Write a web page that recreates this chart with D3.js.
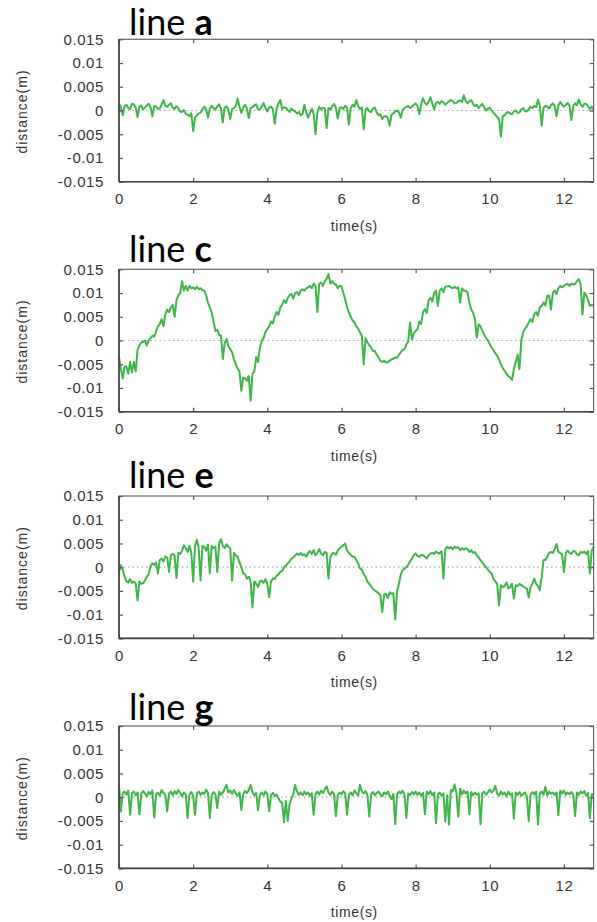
<!DOCTYPE html>
<html><head><meta charset="utf-8">
<script src="https://cdn.jsdelivr.net/npm/d3@7"></script>
<style>body{margin:0;background:#fff}</style></head>
<body><svg id="chart" width="597" height="922"></svg>
<script>
// ---- data: distance in mm, one sample every 0.05 s from 0 to 12.8 s (one row = 1 s) ----
const panelNames = ["a", "c", "e", "g"];
const timeStep = 0.05;
const lineA_mm = [
  1.5,0.8,-1.0,0.9,1.2,0.5,0.3,1.4,1.3,0.6,-1.4,0.8,1.0,0.2,0.6,1.1,1.4,0.7,-1.2,0.9,
  0.9,0.3,0.4,1.3,2.2,1.0,0.8,1.2,1.5,0.6,0.3,0.9,0.5,-0.2,-0.3,0.1,-0.7,-0.9,-1.2,-0.6,
  -4.3,-1.5,-1.0,-0.6,-0.5,0.2,0.8,0.3,-1.5,0.4,1.0,0.5,0.2,0.9,1.3,0.4,-2.5,0.6,0.9,0.2,
  -1.8,0.3,0.5,1.0,2.5,0.8,-0.5,0.6,1.2,0.4,-1.6,0.5,0.7,1.1,1.3,0.2,0.2,0.9,1.6,0.5,
  -0.2,0.6,0.8,0.3,-2.8,0.5,1.5,2.2,0.3,0.7,0.6,0.1,-0.3,0.4,0.0,-0.2,-0.6,-0.3,-1.0,-0.7,
  1.2,-0.4,-1.5,-0.6,0.4,-0.8,-5.0,-0.5,0.8,0.2,0.6,0.4,-3.7,0.5,0.2,0.9,1.4,0.6,-1.7,0.5,
  0.7,0.3,1.0,0.6,-3.0,0.5,1.2,0.8,2.2,0.9,0.3,0.6,-4.0,0.2,0.5,-0.2,-0.3,0.4,0.6,-0.4,
  -1.0,-0.8,-1.8,-1.2,-1.2,-1.6,-3.2,-0.9,-0.6,-0.2,0.0,-0.4,-1.5,0.1,0.5,0.7,1.0,0.5,0.8,1.2,
  1.5,1.0,-0.8,1.3,2.6,1.6,1.2,1.8,2.8,1.5,0.2,1.6,1.8,1.4,2.0,1.7,1.2,1.6,1.9,2.2,
  2.0,1.5,1.6,2.0,2.1,1.8,3.2,2.0,1.5,1.9,2.2,1.4,0.9,1.2,0.5,1.0,1.4,0.6,0.0,0.4,
  0.6,0.0,-0.5,-0.9,-1.4,-1.8,-5.5,-1.2,-1.0,-0.5,-0.3,-0.6,-0.8,-0.2,0.0,-0.5,-0.4,0.2,0.5,-0.1,
  -0.2,0.3,0.8,0.5,1.0,0.7,2.3,1.0,-3.2,0.6,1.0,0.8,0.4,1.1,1.5,0.9,-1.2,1.0,1.8,1.2,
  0.8,1.2,1.6,1.0,-2.0,0.9,1.5,1.1,2.3,1.3,0.8,1.4,1.4,0.9,0.3,0.8,0.2];
const lineC_mm = [
  -3.5,-6.0,-8.0,-5.5,-5.5,-7.0,-4.5,-6.7,-4.5,-6.5,-2.0,-1.0,-0.4,-0.3,0.0,-1.1,0.0,0.5,1.0,0.8,
  2.0,3.0,3.5,4.5,3.0,5.5,6.5,6.0,7.0,7.5,5.0,8.5,9.5,10.0,12.5,10.5,11.5,10.5,11.5,11.0,
  11.2,10.8,11.3,10.8,11.0,10.6,10.5,9.5,8.0,7.0,5.9,4.0,2.0,2.3,1.2,1.0,-3.9,-0.5,0.3,-1.2,
  -1.8,-2.5,-4.0,-5.0,-6.0,-6.5,-10.6,-7.8,-8.0,-8.5,-7.5,-12.7,-7.0,-6.5,-3.5,-4.5,-1.5,0.0,0.5,1.8,
  2.4,3.0,4.0,3.6,5.0,6.0,5.4,7.0,7.5,8.5,7.9,9.0,9.5,9.8,8.8,10.0,10.2,9.6,10.5,10.8,
  10.5,11.0,11.2,11.5,11.0,12.0,11.5,6.0,12.0,12.2,11.5,12.5,13.0,14.0,12.0,12.5,12.0,11.8,11.0,11.5,
  11.5,10.0,8.7,7.0,5.9,5.0,4.2,3.8,3.0,2.5,1.7,1.0,-5.0,0.5,-0.4,-1.0,-1.5,-2.2,-2.2,-3.0,
  -3.5,-4.3,-4.5,-4.3,-4.6,-4.6,-4.2,-4.0,-3.8,-3.6,-3.6,-3.0,-2.5,-2.0,-1.8,-0.8,-0.2,3.8,0.3,1.5,
  2.0,2.4,4.0,3.5,6.0,6.6,5.8,8.5,9.0,8.2,10.0,10.5,7.3,10.5,11.0,10.2,11.3,11.4,11.5,11.2,
  11.0,11.3,11.0,11.2,8.0,11.0,10.5,10.5,10.1,8.0,6.5,5.9,4.5,0.6,3.4,3.0,2.0,1.2,0.5,0.0,
  -0.8,-1.5,-2.0,-2.7,-3.2,-4.0,-5.0,-5.8,-6.4,-7.0,-7.5,-7.8,-8.3,-6.0,-4.5,-3.0,-6.0,0.0,1.7,2.5,
  3.0,3.8,4.5,3.9,5.5,6.0,5.2,7.0,7.3,8.0,7.4,9.4,9.5,6.5,10.0,10.5,9.8,11.0,11.5,11.2,
  11.5,11.8,11.9,11.5,12.0,11.8,11.9,12.5,12.9,12.0,5.5,10.1,9.5,8.5,7.3,7.5,7.3];
const lineE_mm = [
  -1.0,0.4,-0.5,-2.0,-3.0,-3.2,-2.5,-3.3,-3.0,-3.4,-7.0,-3.0,-3.5,-3.4,-2.8,-2.0,-1.5,0.2,0.8,0.5,
  1.0,-1.3,1.5,1.8,1.2,2.3,2.0,-1.0,2.6,2.8,2.5,-2.3,3.0,2.8,3.5,4.6,4.0,3.2,4.5,3.0,
  -3.0,4.5,5.8,4.0,-2.8,4.5,4.3,3.5,4.8,-1.3,4.5,4.0,4.3,-1.0,5.0,5.9,4.5,4.0,4.8,4.3,
  4.0,-2.8,3.0,2.5,2.2,1.0,0.0,-1.3,-1.5,-2.4,-2.0,-3.0,-8.5,-3.0,-3.5,-4.2,-3.0,-2.8,-3.3,-2.5,
  -3.5,-6.3,-3.0,-2.4,-2.5,-1.8,-1.5,-1.0,-0.8,0.0,0.3,0.8,1.2,1.8,2.0,2.5,2.9,2.6,3.0,2.5,
  2.7,2.2,3.0,3.4,2.8,3.6,2.5,3.0,3.8,2.9,2.5,3.2,3.0,-2.4,2.0,2.9,3.0,2.6,3.5,4.0,
  4.3,4.6,5.0,3.5,3.0,2.6,2.2,2.2,1.5,0.8,-0.3,-0.5,-1.5,-2.0,-3.1,-3.5,-4.0,-4.6,-4.9,-5.2,
  -5.5,-5.9,-9.4,-5.8,-5.6,-6.5,-5.3,-5.6,-5.5,-11.0,-5.0,-3.5,-1.5,-0.6,-0.3,0.0,0.5,1.2,1.8,2.5,
  2.9,2.4,2.2,2.6,2.5,2.2,1.8,2.5,2.9,3.0,2.8,3.3,3.0,2.9,3.4,-2.4,3.8,4.3,4.0,4.2,
  3.8,4.3,4.1,4.2,3.6,4.0,3.7,4.0,3.8,3.2,3.6,3.0,3.2,2.5,2.0,1.5,1.0,0.4,0.0,-0.5,
  -1.0,-1.3,-2.5,-3.0,-3.5,-8.0,-3.8,-4.2,-4.0,-3.2,-4.5,-4.2,-3.5,-6.6,-3.8,-4.0,-3.5,-3.8,-4.0,-4.3,
  -4.5,-6.4,-4.2,-3.5,-2.4,-3.5,-4.0,-4.9,-2.0,1.5,1.5,2.2,3.0,3.2,3.0,3.8,4.9,3.2,3.0,2.7,
  -1.0,3.0,3.5,3.0,2.8,3.4,3.3,2.7,2.5,3.2,3.0,3.3,2.8,3.4,-1.3,3.5,4.3];
const lineG_mm = [
  2.5,-3.0,0.8,1.2,0.5,1.4,-3.7,0.9,1.2,0.4,1.0,-3.6,0.6,1.3,0.8,0.2,1.1,0.6,1.4,-4.3,
  0.6,1.0,0.3,1.5,0.9,0.5,-3.0,0.8,1.2,0.4,1.3,0.7,1.5,0.9,0.2,1.0,0.6,-4.4,0.5,1.1,
  0.3,-3.7,0.8,1.2,0.5,1.0,0.7,1.6,0.9,-4.4,0.4,1.1,0.6,-2.3,1.2,0.5,1.0,1.8,2.6,1.0,
  1.4,0.7,1.5,0.8,0.3,1.0,-2.7,0.6,1.3,0.9,1.5,2.6,1.1,0.4,0.9,-2.7,0.5,1.0,0.4,1.2,
  0.6,-3.0,0.5,0.9,0.2,0.6,-0.2,-0.9,-1.2,-5.3,-0.8,-5.0,-1.5,-0.3,0.6,2.6,1.2,0.5,1.0,0.4,
  1.2,0.6,1.0,0.3,0.8,-3.7,0.6,1.2,0.5,1.4,0.9,1.6,2.3,1.0,0.5,1.2,0.7,-4.0,0.4,1.0,
  0.6,1.3,0.8,-3.7,0.5,1.0,0.4,1.4,0.9,0.3,2.6,1.2,0.8,1.3,0.5,-4.1,0.6,1.1,0.4,0.9,
  1.2,0.5,0.2,1.0,0.6,1.2,0.3,-0.4,0.7,-5.7,0.6,1.2,0.8,1.4,0.5,-4.4,0.8,0.4,1.1,0.6,
  1.2,0.5,1.0,0.3,0.9,-3.6,1.2,0.6,1.3,0.4,1.0,-5.5,0.5,1.0,0.3,0.8,-5.1,0.4,-5.8,1.5,
  1.2,2.7,0.9,-4.1,1.8,0.6,1.4,0.8,1.2,-3.6,1.1,0.4,1.0,0.5,0.8,-5.7,0.9,1.2,0.5,1.0,
  1.6,1.0,1.4,2.4,0.8,0.3,1.2,0.6,1.0,0.2,1.2,0.5,0.8,-4.5,1.0,0.5,1.1,0.3,0.6,1.0,
  0.2,-5.0,0.5,1.1,0.6,1.2,-5.8,0.8,1.2,0.5,2.2,0.4,1.2,0.7,1.0,0.5,1.0,-3.8,1.4,0.8,
  1.4,0.5,1.0,0.6,1.1,0.6,-4.0,1.0,0.5,1.2,0.8,1.3,0.3,0.9,-4.4,0.6,0.5];
const seriesList = [lineA_mm, lineC_mm, lineE_mm, lineG_mm];
const xTicks = [0, 2, 4, 6, 8, 10, 12];
const yTicks = [0.015, 0.01, 0.005, 0, -0.005, -0.01, -0.015];
const yTickLabels = ["0.015", "0.01", "0.005", "0", "-0.005", "-0.01", "-0.015"];
const xLabel = "time(s)";
const yLabel = "distance(m)";
const xMax = 12.8;

// ---- layout ----
const plotLeft = 119, plotRight = 593.6, plotH = 142.4;
const panelTops = [39.3, 269.3, 496, 726];
const titleBase = [-4, -7, -8, -6];
const green = "#3fb54a";

const svg = d3.select("#chart");
const x = d3.scaleLinear().domain([0, xMax]).range([plotLeft, plotRight]);

panelNames.forEach((name, p) => {
  const top = panelTops[p], bottom = top + plotH;
  const y = d3.scaleLinear().domain([-0.015, 0.015]).range([bottom, top]);
  const g = svg.append("g");
  const data = seriesList[p].map((v, i) => ({t: i * timeStep, v: v / 1000}));

  g.append("line").attr("x1", plotLeft).attr("x2", plotRight)
    .attr("y1", y(0)).attr("y2", y(0))
    .attr("stroke", "#aaa").attr("stroke-width", 1.2).attr("stroke-dasharray", "1.5,3");

  g.append("path").datum(data)
    .attr("fill", "none").attr("stroke", green).attr("stroke-width", 2)
    .attr("stroke-linejoin", "round")
    .attr("d", d3.line().x(d => x(d.t)).y(d => y(d.v)));

  g.append("rect").attr("x", plotLeft).attr("y", top)
    .attr("width", plotRight - plotLeft).attr("height", plotH)
    .attr("fill", "none").attr("stroke", "#666").attr("stroke-width", 1.2);

  const tickStyle = sel => {
    sel.select(".domain").remove();
    sel.selectAll(".tick line").attr("stroke", "#555").attr("stroke-width", 1.2);
    sel.selectAll(".tick text").attr("fill", "#333")
      .style("font-family", "'Liberation Sans', Arial, sans-serif")
      .style("font-size", "15px").style("letter-spacing", "0.6px");
  };

  g.append("g").attr("transform", `translate(${plotLeft},0)`)
    .call(d3.axisLeft(y).tickValues(yTicks).tickFormat((d, i) => yTickLabels[i])
      .tickSizeInner(-4).tickSizeOuter(0).tickPadding(15))
    .call(tickStyle);
  g.append("g").attr("transform", `translate(${plotRight},0)`)
    .call(d3.axisRight(y).tickValues(yTicks).tickFormat("").tickSizeInner(-4).tickSizeOuter(0))
    .call(tickStyle);
  g.append("g").attr("transform", `translate(0,${bottom})`)
    .call(d3.axisBottom(x).tickValues(xTicks).tickFormat(d3.format("d"))
      .tickSizeInner(-4).tickSizeOuter(0).tickPadding(12))
    .call(tickStyle);
  g.append("g").attr("transform", `translate(0,${top})`)
    .call(d3.axisTop(x).tickValues(xTicks).tickFormat("").tickSizeInner(-4).tickSizeOuter(0))
    .call(tickStyle);

  g.append("line").attr("x1", plotLeft).attr("x2", plotLeft).attr("y1", top).attr("y2", bottom)
    .attr("stroke", "#444").attr("stroke-width", 1.6);
  g.append("line").attr("x1", plotLeft).attr("x2", plotRight).attr("y1", bottom).attr("y2", bottom)
    .attr("stroke", "#444").attr("stroke-width", 1.6);

  g.append("text").attr("x", (plotLeft + plotRight) / 2 - 2).attr("y", bottom + 49)
    .attr("text-anchor", "middle").attr("fill", "#333")
    .style("font-family", "'Liberation Sans', Arial, sans-serif")
    .style("font-size", "14px").style("letter-spacing", "0.6px")
    .text(xLabel);
  g.append("text")
    .attr("transform", `translate(22,${(top + bottom) / 2 + 1}) rotate(-90)`)
    .attr("text-anchor", "middle").attr("dominant-baseline", "central").attr("fill", "#333")
    .style("font-family", "'Liberation Sans', Arial, sans-serif")
    .style("font-size", "14px").style("letter-spacing", "1px")
    .text(yLabel);

  const title = g.append("text").attr("x", 129).attr("y", top + titleBase[p])
    .attr("fill", "#000").style("font-family", "Lato, 'Open Sans', sans-serif")
    .style("font-size", "36px");
  title.append("tspan").text("line ");
  title.append("tspan").style("font-weight", "bold").text(name);
});
</script></body></html>
